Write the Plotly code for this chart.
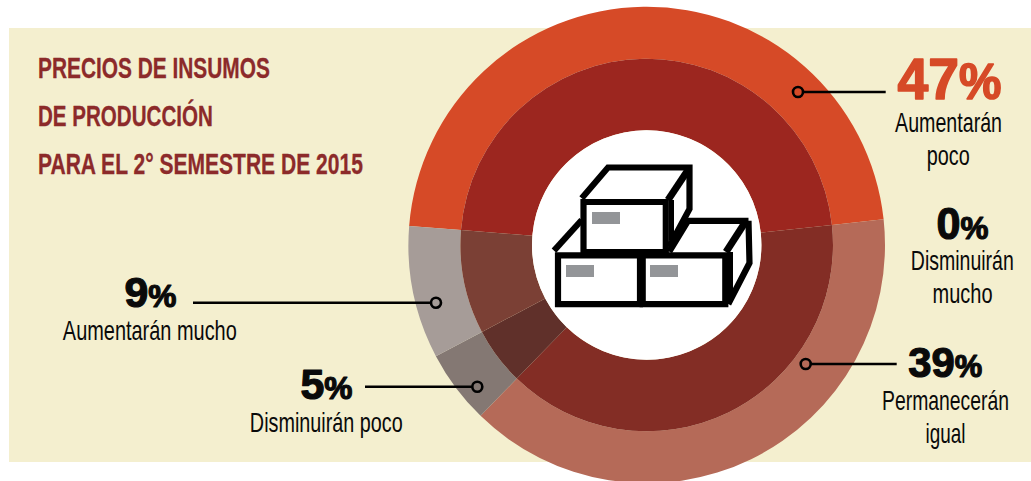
import json
import plotly.graph_objects as go

categories = ["Aumentarán poco", "Disminuirán mucho", "Permanecerán igual", "Disminuirán poco", "Aumentarán mucho"]
values = [47, 0, 39, 5, 9]
outer_colors = ["#D64A27", "#C0C0C0", "#B56A58", "#847873", "#A69C98"]
inner_colors = ["#9C261F", "#808080", "#832D25", "#60302A", "#7B4035"]
title_lines = ["PRECIOS DE INSUMOS", "DE PRODUCCIÓN", "PARA EL 2° SEMESTRE DE 2015"]

W, H = 1031, 490
CX, CY = 646.7, 245.0
R_OUT, R_MID, R_HOLE = 238.3, 186.3, 114.7
FONT = "Liberation Sans, Arial, sans-serif"
INK = "#0A0A0A"
BEIGE = "#F4EFCF"
LABEL_SIZE = 27


def px(x): return x / W
def py(y): return 1 - y / H


def ring(r, hole, colors):
    return go.Pie(
        labels=categories, values=values, sort=False, direction="clockwise", rotation=274.6,
        hole=hole, textinfo="none", hoverinfo="label+percent", showlegend=False,
        marker=dict(colors=colors, line=dict(width=0)),
        domain=dict(x=[px(CX - r), px(CX + r)], y=[py(CY + r), py(CY - r)]),
    )


fig = go.Figure([ring(R_OUT, R_MID / R_OUT, outer_colors), ring(R_MID, R_HOLE / R_MID, inner_colors)])

shapes = []


def rect(x0, y0, x1, y1, fill, layer="above"):
    shapes.append(dict(type="rect", xref="paper", yref="paper", x0=px(x0), x1=px(x1), y0=py(y0), y1=py(y1),
                       fillcolor=fill, line=dict(width=0), layer=layer))


def circle(cx, cy, r, fill=None, line=None, lw=0, layer="above"):
    shapes.append(dict(type="circle", xref="paper", yref="paper", x0=px(cx - r), x1=px(cx + r),
                       y0=py(cy + r), y1=py(cy - r), fillcolor=fill or "rgba(0,0,0,0)",
                       line=dict(color=line or "rgba(0,0,0,0)", width=lw), layer=layer))


def poly(points, lw=6.2, close=False):
    d = "M " + " L ".join(f"{px(x):.5f},{py(y):.5f}" for x, y in points) + (" Z" if close else "")
    shapes.append(dict(type="path", xref="paper", yref="paper", path=d,
                       line=dict(color="#000000", width=lw), layer="above"))


rect(9, 28, 1031, 462, BEIGE, layer="below")
circle(CX, CY, R_HOLE, fill="#FFFFFF")

# box icon
poly([(558, 255.3), (640, 255.3), (640, 304.2), (558, 304.2)], close=True)
poly([(642.7, 255.3), (725.3, 255.3), (725.3, 304.2), (642.7, 304.2)], close=True)
poly([(554, 250.7), (581.7, 220)])
poly([(669.3, 251.7), (688, 220.8), (748.5, 220.8)])
poly([(726, 252), (746, 221)], lw=7)
poly([(748.5, 220.8), (749.5, 263), (728.3, 304)])
poly([(730.5, 252), (730.5, 302)], lw=5)
poly([(583.5, 202), (665.8, 202), (665.8, 252), (583.5, 252)], close=True)
poly([(581.7, 198.3), (608, 167.5), (689.5, 167.5), (689.5, 209), (669, 247)])
poly([(668, 200), (688, 170)], lw=7)
poly([(671.5, 200), (671.5, 240)], lw=5)
rect(592, 212, 620, 224, "#939598")
rect(566, 265, 594, 277, "#939598")
rect(650, 265, 678, 277, "#939598")

# leader lines
for x0, x1, y, cx in [(804, 885.7, 92, 798), (811, 896.7, 364, 805.7), (193, 430.5, 302.7, 436), (365, 471.8, 386.7, 477.3)]:
    poly([(x0, y), (x1, y)], lw=2.5)
    circle(cx, y, 5, line="#000000", lw=2.6)

annotations = []
widths = {}
strokes = {}


def text(x, y, s, size, width, color=INK, anchor="center", stroke=0):
    annotations.append(dict(xref="paper", yref="paper", x=px(x), y=py(y), text=s, showarrow=False,
                            xanchor=anchor, yanchor="middle", align=anchor,
                            font=dict(family=FONT, size=size, color=color)))
    widths[len(annotations) - 1] = width
    strokes[len(annotations) - 1] = stroke


def pct(v, small):
    return f"<b>{v}<span style='font-size:{small}px'>%</span></b>"


for line, y, w in zip(title_lines, [68, 116, 164], [232, 175, 325]):
    text(36, y, f"<b>{line}</b>", 29, w, "#8C2A2A", "left", stroke=0.3)

text(949, 79, pct(values[0], 50), 58, 104, "#D64A27", stroke=1.6)
text(948, 123, "Aumentarán", LABEL_SIZE, 107)
text(948, 156, "poco", LABEL_SIZE, 43)
text(962, 223, pct(values[1], 32), 44, 52, stroke=1.2)
text(962, 261, "Disminuirán", LABEL_SIZE, 103)
text(962, 294, "mucho", LABEL_SIZE, 60)
text(945, 362, pct(values[2], 31), 42, 74, stroke=1.2)
text(945, 401, "Permanecerán", LABEL_SIZE, 127)
text(945, 434, "igual", LABEL_SIZE, 40)
text(150, 292, pct(values[4], 31), 42, 52, stroke=1.2)
text(150, 331, "Aumentarán mucho", LABEL_SIZE, 174)
text(326, 384, pct(values[3], 31), 42, 52, stroke=1.2)
text(326, 423, "Disminuirán poco", LABEL_SIZE, 153)

fig.update_layout(width=W, height=H, margin=dict(l=0, r=0, t=0, b=0), autosize=False,
                  paper_bgcolor="#FFFFFF", plot_bgcolor="#FFFFFF", shapes=shapes, annotations=annotations)

post = """
document.body.style.margin='0';document.body.style.overflow='hidden';document.documentElement.style.overflow='hidden';
var WIDTHS=%s, STROKES=%s, DONE={};
function squeeze(){
  var gd=document.getElementById('{plot_id}');
  gd.querySelectorAll('g.annotation').forEach(function(g){
    var i=g.getAttribute('data-index');var t=g.querySelector('text.annotation-text');
    if(!t||DONE[i]||!WIDTHS[i])return;
    var x=parseFloat(t.getAttribute('x'))||0, sx=WIDTHS[i]/t.getBBox().width;
    t.setAttribute('transform','translate('+x+',0) scale('+sx+',1) translate('+(-x)+',0)');
    if(STROKES[i]){t.style.stroke=t.style.fill;t.style.strokeWidth=STROKES[i]+'px';t.style.strokeLinejoin='round';}
    DONE[i]=1;
  });
}
squeeze();setTimeout(squeeze,30);
""" % (json.dumps(widths), json.dumps(strokes))

fig.write_html("out.html", config=dict(displayModeBar=False), post_script=post)
